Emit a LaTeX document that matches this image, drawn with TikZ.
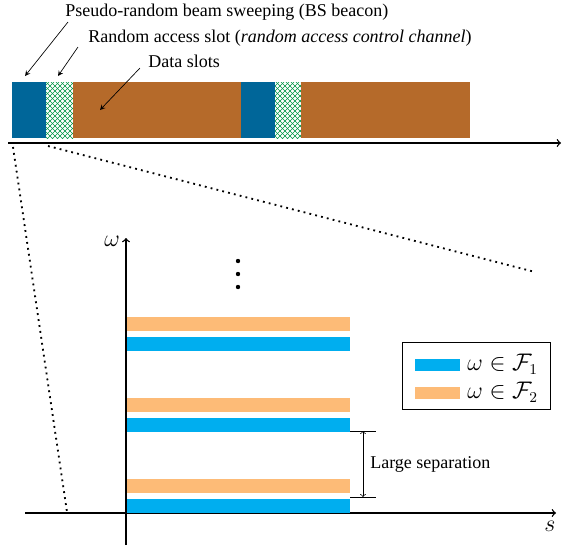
\documentclass[tikz,border=0pt]{standalone}
\usepackage{fontspec}
\setmainfont{Liberation Serif}
\usetikzlibrary{patterns}
\definecolor{beamblue}{RGB}{0,102,153}
\definecolor{databrown}{RGB}{181,106,42}
\definecolor{hatchgreen}{RGB}{0,150,70}
\definecolor{fonecyan}{RGB}{0,174,239}
\definecolor{ftwoorange}{RGB}{253,187,119}

\begin{document}
\begin{tikzpicture} [
   x=0.6pt, y=-0.6pt, >=stealth,
   font=\fontsize{10.8}{13}\selectfont,
   lbl/.style={inner sep=0pt, anchor=west},
   mlbl/.style={inner sep=0pt, font=\fontsize{13.5}{16}\selectfont},
   beam/.style={fill=beamblue},
   racc/.style={fill=white, postaction={pattern=north east lines, pattern color=hatchgreen},
      postaction={pattern=north west lines, pattern color=hatchgreen}},
   data/.style={fill=databrown},
   fone/.style={fill=fonecyan},
   ftwo/.style={fill=ftwoorange},
   ax/.style={thick, -to},
   zoomline/.style={line width=1.1pt, dash pattern=on 1.1pt off 2.5pt}
]
   \useasboundingbox (0,0) rectangle (563,546);

   % frame structure
   \fill[beam] (12,82) rectangle (46,138);
   \fill[racc] (46,82) rectangle (73,138);
   \fill[data] (73,82) rectangle (241,138);
   \fill[beam] (241,82) rectangle (275,138);
   \fill[racc] (275,82) rectangle (301,138);
   \fill[data] (301,82) rectangle (470,138);
   \coordinate (t0) at (8,143);
   \coordinate (t1) at (561,143);
   \draw[ax] (t0) -- (t1);

   \node (beamlbl) [lbl] at (65,12) {Pseudo-random beam sweeping (BS beacon)};
   \node (racclbl) [lbl] at (88,38) {Random access slot (\textit{random access control channel})};
   \node (datalbl) [lbl] at (148,61) {Data slots};
   \coordinate (beamtip) at (25,76);
   \coordinate (racctip) at (58,76);
   \coordinate (datatip) at (100,110);
   \draw[->] (68,22) -- (beamtip);
   \draw[->] (78,47) -- (racctip);
   \draw[->] (140,68) -- (datatip);

   % zoom lines
   \coordinate (z0) at (13,147);
   \coordinate (z1) at (48,146);
   \draw[zoomline] (z0) -- (67,512);
   \draw[zoomline] (z1) -- (535,272);

   % frequency plot
   \node (w) [mlbl] at (112,241) {$\omega$};
   \node (s) [mlbl] at (550,526) {$s$};
   \draw[ax] (126,545) -- (126,238);
   \draw[ax] (25,513) -- (556,513);
   \foreach \y in {317,398,479} {
      \fill[ftwo] (127,\y) rectangle (350,\y+14);
      \fill[fone] (127,\y+20) rectangle (350,\y+34);
   }
   \foreach \y in {261,274,287}
      \fill (238,\y) circle (2.2);

   % separation
   \coordinate (sa) at (363,431);
   \coordinate (sb) at (363,497);
   \draw (350,431) -- (376,431);
   \draw (350,497) -- (376,497);
   \draw[to-to] (sa) -- (sb);
   \node (seplbl) [lbl] at (370,464) {Large separation};

   % legend
   \node (legend) [draw, minimum width=148*0.6pt, minimum height=67*0.6pt] at (476,376) {};
   \fill[fone] (415,359) rectangle (460,371);
   \fill[ftwo] (415,387) rectangle (460,399);
   \node (lone) [mlbl, anchor=west] at (467,364) {$\omega\in\mathcal{F}_1$};
   \node (ltwo) [mlbl, anchor=west] at (467,392) {$\omega\in\mathcal{F}_2$};
\end{tikzpicture}
\end{document}
